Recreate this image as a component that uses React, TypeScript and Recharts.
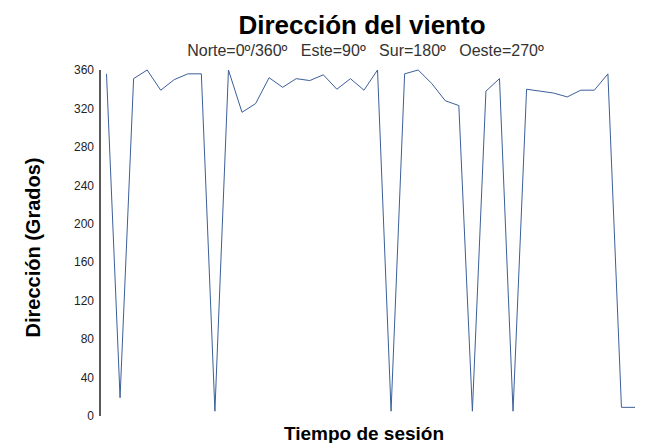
import React from 'react';
import { LineChart, Line, XAxis, YAxis } from 'recharts';

const sessionSteps: number[] = Array.from({ length: 40 }, (_, i) => i + 1);
const windDirection: number[] = [
  356, 19, 351, 360, 339, 350, 356, 356, 5, 360,
  316, 325, 352, 342, 351, 349, 355, 340, 351, 339,
  360, 5, 356, 360, 346, 328, 323, 5, 338, 351,
  5, 340, 338, 336, 332, 339, 339, 356, 9, 9,
];
const yTicks: number[] = [0, 40, 80, 120, 160, 200, 240, 280, 320, 360];

const titleText = 'Dirección del viento';
const subtitleText = 'Norte=0º/360º   Este=90º   Sur=180º   Oeste=270º';
const xLabelText = 'Tiempo de sesión';
const yLabelText = 'Dirección (Grados)';

const data = sessionSteps.map((s, i) => ({ step: s, dir: windDirection[i] }));

const FONT = '"Liberation Sans", Arial, Helvetica, sans-serif';

export default function App() {
  return (
    <div style={{ position: 'absolute', left: 0, top: 0, width: 647, height: 443, background: '#fff' }}>
      <LineChart
        width={647}
        height={443}
        data={data}
        margin={{ top: 70, right: 5, bottom: 27, left: 40 }}
      >
        <XAxis
          dataKey="step"
          type="category"
          tick={false}
          tickLine={false}
          height={0}
          padding={{ left: 6.5, right: 7 }}
          axisLine={{ stroke: '#222', strokeWidth: 1.5 }}
        />
        <YAxis
          type="number"
          domain={[0, 360]}
          ticks={yTicks}
          interval={0}
          width={60}
          tickLine={false}
          tickSize={6}
          tickMargin={0}
          axisLine={{ stroke: '#222', strokeWidth: 1.5 }}
          tick={{ fill: '#222', fontSize: 12, fontFamily: FONT }}
        />
        <Line
          type="linear"
          dataKey="dir"
          stroke="#3b5f99"
          strokeWidth={1}
          dot={false}
          activeDot={false}
          isAnimationActive={false}
        />
      </LineChart>
      <svg
        width={647}
        height={443}
        style={{ position: 'absolute', left: 0, top: 0, pointerEvents: 'none' }}
      >
        <text x={362} y={34} textAnchor="middle" fontFamily={FONT} fontWeight="bold" fontSize={26} fill="#000">
          {titleText}
        </text>
        <text x={365.5} y={55.5} textAnchor="middle" fontFamily={FONT} fontSize={16} fill="#333" style={{ whiteSpace: 'pre' }} xmlSpace="preserve">
          {subtitleText}
        </text>
        <text x={364} y={440} textAnchor="middle" fontFamily={FONT} fontWeight="bold" fontSize={19} fill="#000">
          {xLabelText}
        </text>
        <text
          x={0}
          y={0}
          transform="translate(39.5,247.5) rotate(-90)"
          textAnchor="middle"
          fontFamily={FONT}
          fontWeight="bold"
          fontSize={20}
          fill="#000"
        >
          {yLabelText}
        </text>
      </svg>
    </div>
  );
}
